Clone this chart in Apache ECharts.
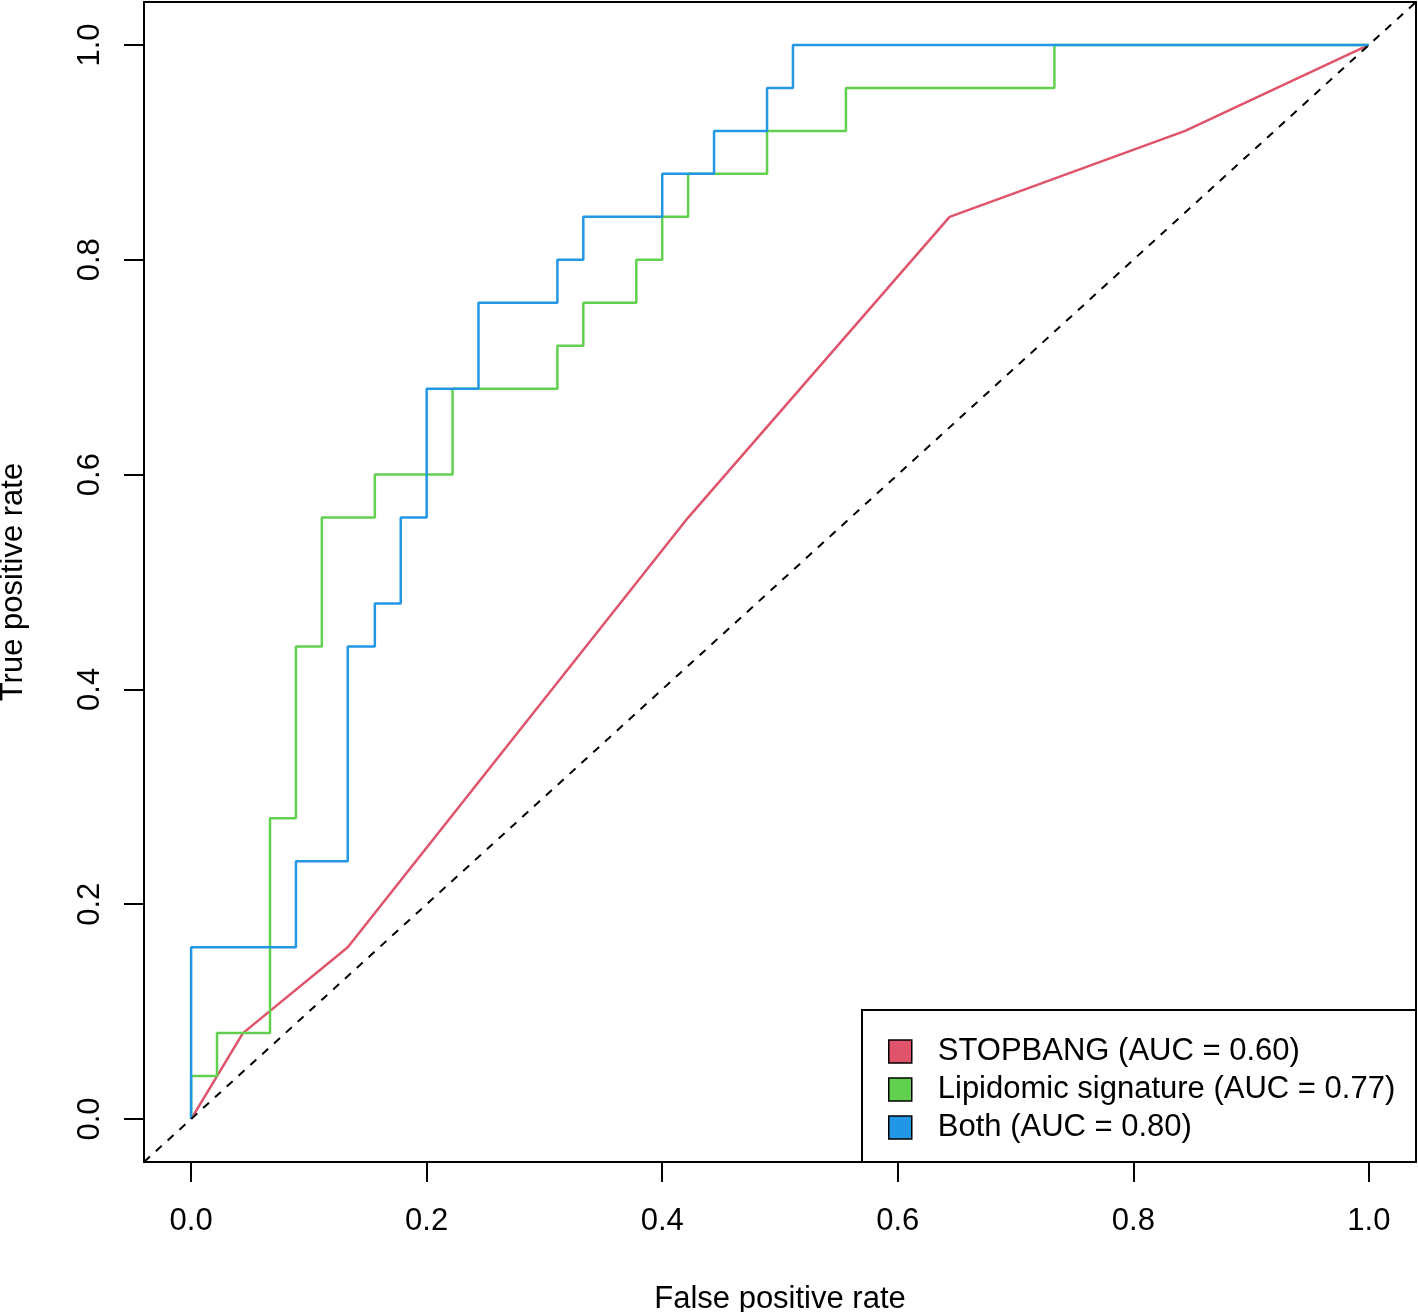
<!DOCTYPE html>
<html>
<head>
<meta charset="utf-8">
<script src="https://cdn.jsdelivr.net/npm/echarts@6/dist/echarts.min.js"></script>
<style>
html,body{margin:0;padding:0;background:#fff;}
#chart{width:1418px;height:1312px;}
</style>
</head>
<body>
<div id="chart"></div>
<script>
// ROC curve points (false positive rate, true positive rate)
const stopbangFPR = [0, 0.044, 0.133, 0.422, 0.644, 0.844, 1];
const stopbangTPR = [0, 0.08, 0.16, 0.56, 0.84, 0.92, 1];

const lipidFPR = [0, 0, 0.022, 0.022, 0.067, 0.067, 0.089, 0.089, 0.111, 0.111, 0.156, 0.156, 0.222, 0.222, 0.311, 0.311, 0.333, 0.333, 0.378, 0.378, 0.4, 0.4, 0.422, 0.422, 0.489, 0.489, 0.556, 0.556, 0.733, 0.733, 1];
const lipidTPR = [0, 0.04, 0.04, 0.08, 0.08, 0.28, 0.28, 0.44, 0.44, 0.56, 0.56, 0.60, 0.60, 0.68, 0.68, 0.72, 0.72, 0.76, 0.76, 0.80, 0.80, 0.84, 0.84, 0.88, 0.88, 0.92, 0.92, 0.96, 0.96, 1, 1];

const bothFPR = [0, 0, 0.089, 0.089, 0.133, 0.133, 0.156, 0.156, 0.178, 0.178, 0.2, 0.2, 0.244, 0.244, 0.311, 0.311, 0.333, 0.333, 0.4, 0.4, 0.444, 0.444, 0.489, 0.489, 0.511, 0.511, 1];
const bothTPR = [0, 0.16, 0.16, 0.24, 0.24, 0.44, 0.44, 0.48, 0.48, 0.56, 0.56, 0.68, 0.68, 0.76, 0.76, 0.80, 0.80, 0.84, 0.84, 0.88, 0.88, 0.92, 0.92, 0.96, 0.96, 1, 1];

const diagX = [-0.04, 1.04];
const diagY = [-0.04, 1.04];

const seriesNames = ['STOPBANG (AUC = 0.60)', 'Lipidomic signature (AUC = 0.77)', 'Both (AUC = 0.80)'];
const seriesColors = ['#DF536B', '#61D04F', '#2297E6'];
const tickValues = [0, 0.2, 0.4, 0.6, 0.8, 1.0];

function pairs(xs, ys) { return xs.map((x, i) => [x, ys[i]]); }

const FONT = '"Liberation Sans", Arial, Helvetica, sans-serif';
const chart = echarts.init(document.getElementById('chart'));
chart.setOption({
  animation: false,
  backgroundColor: '#fff',
  textStyle: { fontFamily: FONT },
  grid: { left: 144, top: 2, width: 1272, height: 1160, show: true, borderColor: '#000', borderWidth: 2, backgroundColor: 'transparent', containLabel: false, outerBoundsMode: 'none' },
  xAxis: {
    type: 'value', min: -0.04, max: 1.04,
    name: 'False positive rate', nameLocation: 'middle', nameGap: 122,
    nameTextStyle: { fontSize: 31, color: '#000', fontFamily: FONT },
    axisLine: { show: false, onZero: false },
    axisTick: { show: true, customValues: tickValues, length: 20, lineStyle: { color: '#000', width: 2 } },
    axisLabel: { customValues: tickValues, margin: 44, fontSize: 31, color: '#000', fontFamily: FONT, formatter: v => v.toFixed(1) },
    splitLine: { show: false }
  },
  yAxis: {
    type: 'value', min: -0.04, max: 1.04,
    name: 'True positive rate', nameLocation: 'middle', nameGap: 115,
    nameTextStyle: { fontSize: 31, color: '#000', fontFamily: FONT },
    axisLine: { show: false, onZero: false },
    axisTick: { show: true, customValues: tickValues, length: 20, lineStyle: { color: '#000', width: 2 } },
    axisLabel: { customValues: tickValues, margin: 38, rotate: 90, fontSize: 31, color: '#000', fontFamily: FONT, formatter: v => v.toFixed(1) },
    splitLine: { show: false }
  },
  graphic: [{
    type: 'rect', z: 3,
    shape: { x: 862, y: 1010, width: 554, height: 152 },
    style: { fill: '#fff', stroke: '#000', lineWidth: 2 }
  }],
  legend: {
    data: seriesNames, orient: 'vertical', left: 888, top: 1036, padding: 0,
    itemWidth: 23, itemHeight: 23, itemGap: 7, icon: 'rect', z: 10,
    itemStyle: { borderColor: '#000', borderWidth: 1.5 },
    textStyle: { fontSize: 31, lineHeight: 31, color: '#000', fontFamily: FONT, padding: [0, 0, 0, 21] }
  },
  series: [
    { name: seriesNames[0], type: 'line', data: pairs(stopbangFPR, stopbangTPR), showSymbol: false, color: seriesColors[0], lineStyle: { width: 2.5, color: seriesColors[0] }, z: 2 },
    { name: seriesNames[1], type: 'line', data: pairs(lipidFPR, lipidTPR), showSymbol: false, color: seriesColors[1], lineStyle: { width: 2.5, color: seriesColors[1] }, z: 3 },
    { name: seriesNames[2], type: 'line', data: pairs(bothFPR, bothTPR), showSymbol: false, color: seriesColors[2], lineStyle: { width: 2.5, color: seriesColors[2] }, z: 4 },
    { name: 'diag', type: 'line', data: pairs(diagX, diagY), showSymbol: false, color: '#000', lineStyle: { width: 2, color: '#000', type: [8, 8] }, z: 5, silent: true }
  ]
});
</script>
</body>
</html>
